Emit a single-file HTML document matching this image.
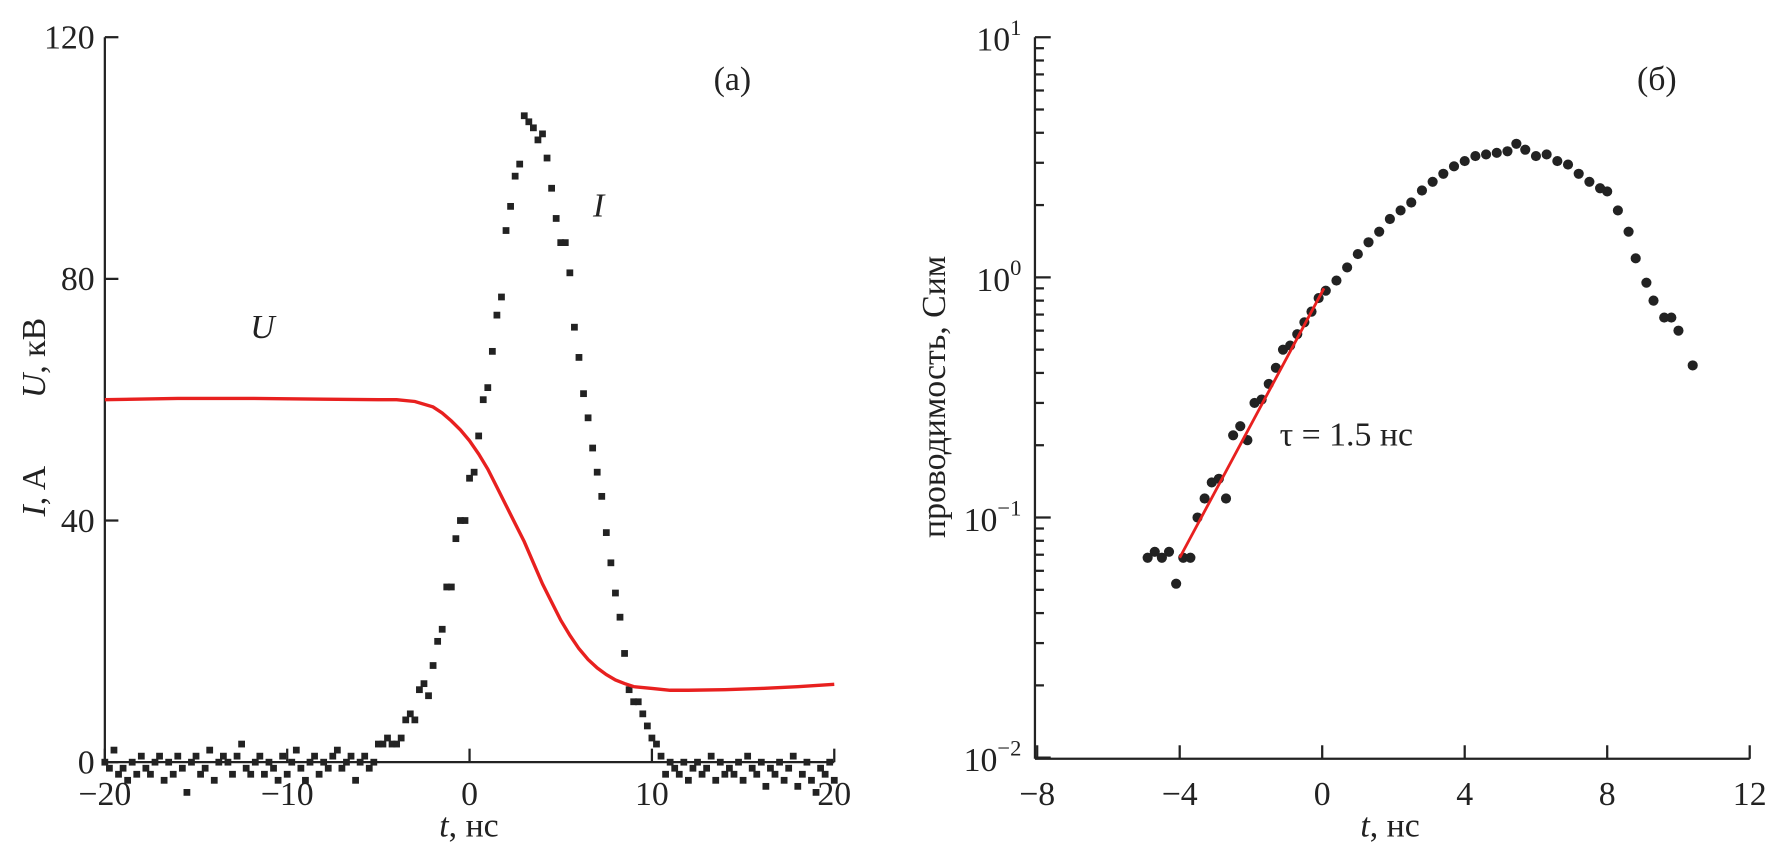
<!DOCTYPE html>
<html><head><meta charset="utf-8">
<style>
body{margin:0;background:#fff;}
svg{display:block;font-family:"Liberation Serif","DejaVu Serif",serif;}
</style></head>
<body>
<svg id="chart" width="1770" height="849" viewBox="0 0 1570 753" preserveAspectRatio="none" xmlns="http://www.w3.org/2000/svg">
<g id="left"></g>
<g id="right"></g>
</svg>
<script>
// Panel (a) data
const iTimes = [-20,-19.75,-19.5,-19.25,-19,-18.75,-18.5,-18.25,-18,-17.75,-17.5,-17.25,-17,-16.75,-16.5,-16.25,-16,-15.75,-15.5,-15.25,-15,-14.75,-14.5,-14.25,-14,-13.75,-13.5,-13.25,-13,-12.75,-12.5,-12.25,-12,-11.75,-11.5,-11.25,-11,-10.75,-10.5,-10.25,-10,-9.75,-9.5,-9.25,-9,-8.75,-8.5,-8.25,-8,-7.75,-7.5,-7.25,-7,-6.75,-6.5,-6.25,-6,-5.75,-5.5,-5.25,-5,-4.75,-4.5,-4.25,-4,-3.75,-3.5,-3.25,-3,-2.75,-2.5,-2.25,-2,-1.75,-1.5,-1.25,-1,-0.75,-0.5,-0.25,0,0.25,0.5,0.75,1,1.25,1.5,1.75,2,2.25,2.5,2.75,3,3.25,3.5,3.75,4,4.25,4.5,4.75,5,5.25,5.5,5.75,6,6.25,6.5,6.75,7,7.25,7.5,7.75,8,8.25,8.5,8.75,9,9.25,9.5,9.75,10,10.25,10.5,10.75,11,11.25,11.5,11.75,12,12.25,12.5,12.75,13,13.25,13.5,13.75,14,14.25,14.5,14.75,15,15.25,15.5,15.75,16,16.25,16.5,16.75,17,17.25,17.5,17.75,18,18.25,18.5,18.75,19,19.25,19.5,19.75,20];
const iValues = [0,-1,2,-2,-1,-3,0,-2,1,-1,-2,0,1,-3,0,-2,1,-1,-5,0,1,-2,-1,2,-3,0,1,0,-2,1,3,-1,-2,0,1,-2,0,-1,-3,1,-2,0,2,-1,-3,0,1,-2,0,-1,1,2,-1,0,1,-3,0,1,-1,0,3,3,4,3,3,4,7,8,7,12,13,11,16,20,22,29,29,37,40,40,47,48,54,60,62,68,74,77,88,92,97,99,107,106,105,103,104,100,95,90,86,86,81,72,67,61,57,52,48,44,38,33,28,24,18,12,10,10,8,6,4,3,1,-2,0,-1,-2,0,-3,-1,0,-2,-1,1,-3,0,-2,-1,-2,0,-3,1,-1,-2,0,-4,-1,-2,0,-3,-1,1,-4,-2,0,-3,-5,-1,-2,0,-3];
const uTimes = [-20,-16,-12,-8,-5,-4,-3,-2,-1.5,-1,-0.5,0,0.5,1,1.5,2,2.5,3,3.5,4,4.5,5,5.5,6,6.5,7,7.5,8,8.5,9,10,11,12,14,16,18,20];
const uValues = [60,60.2,60.2,60.1,60,60,59.7,58.8,57.8,56.5,55,53.2,51,48.5,45.5,42.5,39.5,36.5,33,29.5,26.5,23.5,21,18.8,17,15.6,14.5,13.6,13,12.5,12.2,11.9,11.9,12,12.2,12.5,12.9];
const aXTicks = [-20,-10,0,10,20];
const aYTicks = [0,40,80,120];
// Panel (b) data
const gTimes = [-4.9,-4.7,-4.5,-4.3,-4.1,-3.9,-3.7,-3.5,-3.3,-3.1,-2.9,-2.7,-2.5,-2.3,-2.1,-1.9,-1.7,-1.5,-1.3,-1.1,-0.9,-0.7,-0.5,-0.3,-0.1,0.1,0.4,0.7,1.0,1.3,1.6,1.9,2.2,2.5,2.8,3.1,3.4,3.7,4.0,4.3,4.6,4.9,5.2,5.45,5.7,6.0,6.3,6.6,6.9,7.2,7.5,7.8,8.0,8.3,8.6,8.8,9.1,9.3,9.6,9.8,10.0,10.4];
const gValues = [0.068,0.072,0.068,0.072,0.053,0.068,0.068,0.1,0.12,0.14,0.145,0.12,0.22,0.24,0.21,0.3,0.31,0.36,0.42,0.5,0.52,0.58,0.65,0.72,0.82,0.88,0.97,1.1,1.25,1.4,1.55,1.75,1.9,2.05,2.3,2.5,2.7,2.9,3.05,3.2,3.25,3.3,3.35,3.6,3.4,3.2,3.25,3.05,2.95,2.7,2.5,2.35,2.28,1.9,1.55,1.2,0.95,0.8,0.68,0.68,0.6,0.43];
const fitTimes = [-4,0.05];
const fitValues = [0.068,0.9];
const bXTicks = [-8,-4,0,4,8,12];
const bYExp = [-2,-1,0,1];

const NS="http://www.w3.org/2000/svg";
function mk(parent,tag,attrs,text){const e=document.createElementNS(NS,tag);for(const k in attrs)e.setAttribute(k,attrs[k]);if(text!==undefined)e.textContent=text;parent.appendChild(e);return e;}

// ---- Panel a ----
const A=document.getElementById('left');
const ax=t=>93+(t+20)*(740-93)/40;
const ay=v=>676-v*(676-33)/120;
let e;
e=mk(A,'line',{x1:93,y1:33,x2:93,y2:676,stroke:'#222','stroke-width':2});


e=mk(A,'line',{x1:93,y1:676,x2:740,y2:676,stroke:'#222','stroke-width':2});


aXTicks.forEach(t=>{
  mk(A,'line',{x1:ax(t),y1:676,x2:ax(t),y2:664,stroke:'#222','stroke-width':2});
  e=mk(A,'text',{x:ax(t),y:714,'font-size':30,'text-anchor':'middle',fill:'#222'},(t<0?'\u2212'+(-t):t));
  
  
});
aYTicks.forEach(v=>{
  mk(A,'line',{x1:93,y1:ay(v),x2:105,y2:ay(v),stroke:'#222','stroke-width':2});
  e=mk(A,'text',{x:84,y:ay(v)+10,'font-size':30,'text-anchor':'end',fill:'#222'},v);
  
  
});
iTimes.forEach((t,i)=>{
  if(iValues[i]===undefined) return;
  e=mk(A,'rect',{x:ax(t)-3,y:ay(iValues[i])-3,width:6,height:6,fill:'#222'});
  
  
});
e=mk(A,'path',{d:uTimes.map((t,i)=>(i?'L':'M')+ax(t).toFixed(1)+' '+ay(uValues[i]).toFixed(1)).join(''),fill:'none',stroke:'#e8201f','stroke-width':3});


e=mk(A,'text',{x:222,y:300,'font-size':30,'font-style':'italic',fill:'#222'},'U');


e=mk(A,'text',{x:526,y:192,'font-size':30,'font-style':'italic',fill:'#222'},'I');


e=mk(A,'text',{x:633,y:80,'font-size':30,fill:'#222'},'(a)');


e=mk(A,'text',{x:416,y:742,'font-size':30,'text-anchor':'middle',fill:'#222'});


e.innerHTML='<tspan font-style="italic">t</tspan>, нс';
e=mk(A,'text',{x:0,y:0,'font-size':30,'text-anchor':'middle',fill:'#222',transform:'translate(40,370) rotate(-90)'});


e.innerHTML='<tspan font-style="italic">I</tspan>, A\u2003\u2003<tspan font-style="italic">U</tspan>, кВ';

// ---- Panel b ----
const B=document.getElementById('right');
const bx=t=>920+(t+8)*(1552-920)/20;
const by=v=>33+(1-Math.log10(v))*(672-33)/3;
e=mk(B,'line',{x1:918,y1:33,x2:918,y2:673,stroke:'#222','stroke-width':2});


e=mk(B,'line',{x1:918,y1:673,x2:1552,y2:673,stroke:'#222','stroke-width':2});


bXTicks.forEach(t=>{
  mk(B,'line',{x1:bx(t),y1:673,x2:bx(t),y2:661,stroke:'#222','stroke-width':2});
  e=mk(B,'text',{x:bx(t),y:714,'font-size':30,'text-anchor':'middle',fill:'#222'},(t<0?'\u2212'+(-t):t));
  
  
});
bYExp.forEach(p=>{
  const y=by(Math.pow(10,p));
  mk(B,'line',{x1:918,y1:y,x2:932,y2:y,stroke:'#222','stroke-width':2});
  e=mk(B,'text',{x:906,y:y+12,'font-size':30,'text-anchor':'end',fill:'#222'});
  
  
  e.innerHTML='10<tspan dy="-14" font-size="20">'+(p<0?'\u2212'+(-p):p)+'</tspan>';
  if(p<1){for(let m=2;m<10;m++){const yy=by(m*Math.pow(10,p));mk(B,'line',{x1:918,y1:yy,x2:926,y2:yy,stroke:'#222','stroke-width':2});}}
});
gTimes.forEach((t,i)=>{
  e=mk(B,'circle',{cx:bx(t),cy:by(gValues[i]),r:4.5,fill:'#222'});
  
  
});
e=mk(B,'line',{x1:bx(fitTimes[0]),y1:by(fitValues[0]),x2:bx(fitTimes[1]),y2:by(fitValues[1]),stroke:'#e8201f','stroke-width':2.5});


e=mk(B,'text',{x:1135,y:395,'font-size':30,fill:'#222'},'τ = 1.5 нс');


e=mk(B,'text',{x:1452,y:80,'font-size':30,fill:'#222'},'(б)');


e=mk(B,'text',{x:1233,y:742,'font-size':30,'text-anchor':'middle',fill:'#222'});


e.innerHTML='<tspan font-style="italic">t</tspan>, нс';
e=mk(B,'text',{x:0,y:0,'font-size':30,'text-anchor':'middle',fill:'#222',transform:'translate(838,352) rotate(-90)'},'проводимость, Сим');


</script>
</body></html>
